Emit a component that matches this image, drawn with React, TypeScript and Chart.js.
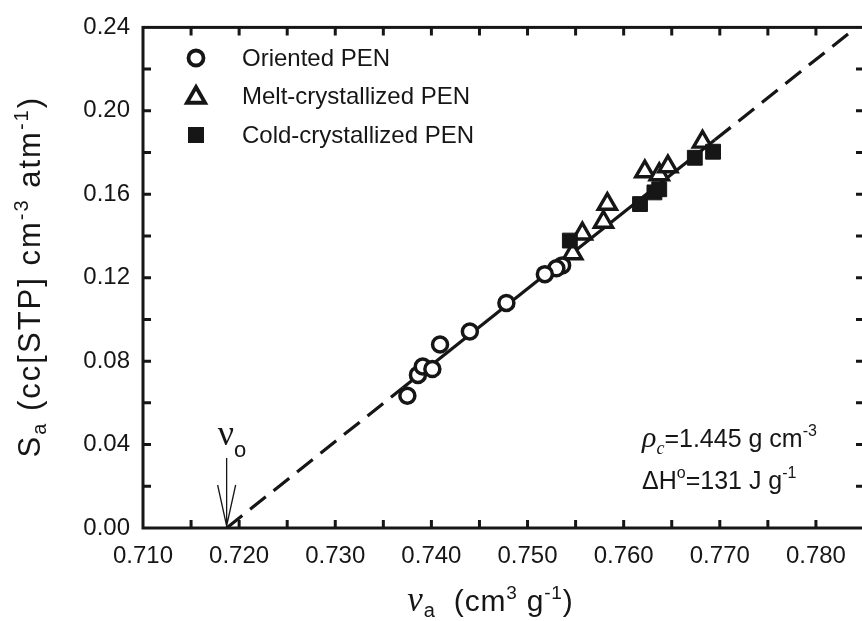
import React, { useEffect, useRef } from 'react';
import { Chart, registerables } from 'chart.js';

Chart.register(...registerables);

// ---------- data ----------
const orientedX = [0.7375, 0.7386, 0.7391, 0.7401, 0.7409, 0.744, 0.7478, 0.7536, 0.753, 0.7518];
const orientedY = [0.0634, 0.0734, 0.0774, 0.0762, 0.088, 0.0942, 0.1079, 0.1259, 0.1245, 0.1217];

const meltX = [0.7547, 0.7557, 0.7579, 0.7583, 0.7622, 0.7637, 0.7646, 0.7682];
const meltY = [0.1316, 0.1411, 0.1467, 0.1553, 0.1709, 0.1695, 0.1733, 0.1851];

const coldX = [0.7544, 0.7617, 0.7632, 0.7637, 0.7674, 0.7693];
const coldY = [0.1378, 0.1553, 0.1609, 0.1624, 0.1775, 0.1804];

// fitted line: dashed extrapolation / solid fit / dashed extrapolation
const fitX = [0.7187, 0.737, 0.7695, 0.7842];
const fitY = [0, 0.0671, 0.1861, 0.24];

const xMin = 0.71;
const xMax = 0.785;
const yMin = 0;
const yMax = 0.24;
const xStep = 0.005;
const yStep = 0.02;

const legendLabels = ['Oriented PEN', 'Melt-crystallized PEN', 'Cold-crystallized PEN'];

const SANS = 'Arial, "Liberation Sans", Helvetica, sans-serif';
const SERIF = '"Times New Roman", "Liberation Serif", serif';
const INK = '#161616';

type Seg = { t: string; f: string; dy?: number };

function richWidth(ctx: CanvasRenderingContext2D, segs: Seg[], sp: number) {
  let w = 0;
  segs.forEach((s) => {
    ctx.font = s.f;
    for (const ch of s.t) w += ctx.measureText(ch).width + sp;
  });
  return w - sp;
}

function drawRich(
  ctx: CanvasRenderingContext2D,
  segs: Seg[],
  x: number,
  y: number,
  align: 'left' | 'center',
  sp = 0
) {
  const w = richWidth(ctx, segs, sp);
  let cx = align === 'center' ? x - w / 2 : x;
  ctx.textAlign = 'left';
  ctx.textBaseline = 'alphabetic';
  segs.forEach((s) => {
    ctx.font = s.f;
    for (const ch of s.t) {
      ctx.fillText(ch, cx, y + (s.dy || 0));
      cx += ctx.measureText(ch).width + sp;
    }
  });
}

const pts = (xs: number[], ys: number[]) => xs.map((x, i) => ({ x, y: ys[i] }));

const decorPlugin = {
  id: 'decor',
  afterDraw(chart: any) {
    const { ctx, chartArea: a, scales } = chart;
    const xs = scales.x;
    const ys = scales.y;
    ctx.save();
    ctx.strokeStyle = INK;
    ctx.fillStyle = INK;

    // frame
    ctx.lineWidth = 3;
    ctx.strokeRect(a.left, a.top, a.right - a.left, a.bottom - a.top);

    // inward ticks on all four sides
    const L = 8;
    ctx.lineWidth = 3;
    ctx.beginPath();
    xs.ticks.forEach((t: any) => {
      const px = xs.getPixelForValue(t.value);
      if (px <= a.left + 2 || px >= a.right - 2) return;
      ctx.moveTo(px, a.bottom);
      ctx.lineTo(px, a.bottom - L);
      ctx.moveTo(px, a.top);
      ctx.lineTo(px, a.top + L);
    });
    ys.ticks.forEach((t: any) => {
      const py = ys.getPixelForValue(t.value);
      if (py <= a.top + 2 || py >= a.bottom - 2) return;
      ctx.moveTo(a.left, py);
      ctx.lineTo(a.left + L, py);
      ctx.moveTo(a.right, py);
      ctx.lineTo(a.right - L, py);
    });
    ctx.stroke();

    // legend
    const lx = 196;
    const rows = [58, 96.5, 135];
    ctx.lineWidth = 3.8;
    // circle
    ctx.beginPath();
    ctx.arc(lx, rows[0], 7.5, 0, Math.PI * 2);
    ctx.fillStyle = '#fff';
    ctx.fill();
    ctx.stroke();
    // triangle
    const r = 10.5;
    ctx.beginPath();
    ctx.moveTo(lx, rows[1] - r + 1);
    ctx.lineTo(lx + r * 0.866, rows[1] + r * 0.5 + 1);
    ctx.lineTo(lx - r * 0.866, rows[1] + r * 0.5 + 1);
    ctx.closePath();
    ctx.lineJoin = 'miter';
    ctx.stroke();
    // square
    ctx.fillStyle = INK;
    ctx.fillRect(lx - 8, rows[2] - 8, 16, 16);

    ctx.fillStyle = INK;
    ctx.font = `24px ${SANS}`;
    ctx.textAlign = 'left';
    ctx.textBaseline = 'middle';
    legendLabels.forEach((lab, i) => ctx.fillText(lab, 242, rows[i] + 1));

    // annotations
    drawRich(
      ctx,
      [
        { t: 'ρ', f: `italic 30px ${SERIF}` },
        { t: 'c', f: `italic 18px ${SERIF}`, dy: 7 },
        { t: '=1.445 g cm', f: `25px ${SANS}` },
        { t: '-3', f: `16px ${SANS}`, dy: -11 },
      ],
      642,
      447,
      'left'
    );
    drawRich(
      ctx,
      [
        { t: 'ΔH', f: `25px ${SANS}` },
        { t: 'o', f: `16px ${SANS}`, dy: -11 },
        { t: '=131 J g', f: `25px ${SANS}` },
        { t: '-1', f: `16px ${SANS}`, dy: -11 },
      ],
      642,
      489,
      'left'
    );

    // v_o label and arrow
    const ax = xs.getPixelForValue(fitX[0]);
    drawRich(
      ctx,
      [
        { t: 'ν', f: `36px ${SERIF}` },
        { t: 'o', f: `22px ${SANS}`, dy: 12 },
      ],
      ax - 9,
      445,
      'left'
    );
    ctx.lineWidth = 1.3;
    ctx.beginPath();
    ctx.moveTo(ax, 458);
    ctx.lineTo(ax, a.bottom - 2);
    ctx.moveTo(ax - 9, 485);
    ctx.lineTo(ax, a.bottom - 2);
    ctx.lineTo(ax + 9, 485);
    ctx.stroke();

    // axis titles
    drawRich(
      ctx,
      [
        { t: 'ν', f: `italic 35px ${SERIF}` },
        { t: 'a', f: `20px ${SANS}`, dy: 6 },
        { t: '  (cm', f: `30px ${SANS}` },
        { t: '3', f: `19px ${SANS}`, dy: -12 },
        { t: ' g', f: `30px ${SANS}` },
        { t: '-1', f: `19px ${SANS}`, dy: -12 },
        { t: ')', f: `30px ${SANS}` },
      ],
      490,
      611,
      'center',
      0.8
    );

    ctx.translate(40, (a.top + a.bottom) / 2);
    ctx.rotate(-Math.PI / 2);
    drawRich(
      ctx,
      [
        { t: 'S', f: `31px ${SANS}` },
        { t: 'a', f: `20px ${SANS}`, dy: 6 },
        { t: ' (cc[STP] cm', f: `31px ${SANS}` },
        { t: '-3', f: `20px ${SANS}`, dy: -12 },
        { t: ' atm', f: `31px ${SANS}` },
        { t: '-1', f: `20px ${SANS}`, dy: -12 },
        { t: ')', f: `31px ${SANS}` },
      ],
      0,
      0,
      'center',
      2
    );
    ctx.restore();
  },
};

export default function App() {
  const ref = useRef<HTMLCanvasElement | null>(null);

  useEffect(() => {
    if (!ref.current) return;
    const lineBase = {
      type: 'line' as const,
      showLine: true,
      pointRadius: 0,
      borderColor: INK,
      borderWidth: 3.2,
      borderCapStyle: 'butt' as const,
      fill: false,
      tension: 0,
    };
    const chart = new Chart(ref.current, {
      type: 'scatter',
      data: {
        datasets: [
          {
            label: legendLabels[0],
            data: pts(orientedX, orientedY),
            pointStyle: 'circle',
            pointRadius: 7.5,
            pointBorderWidth: 3.5,
            pointBorderColor: INK,
            pointBackgroundColor: '#ffffff',
          },
          {
            label: legendLabels[2],
            data: pts(coldX, coldY),
            pointStyle: 'rect',
            pointRadius: 10.5,
            pointBorderWidth: 1,
            pointBorderColor: INK,
            pointBackgroundColor: INK,
          },
          {
            label: legendLabels[1],
            data: pts(meltX, meltY),
            pointStyle: 'triangle',
            pointRadius: 10.5,
            pointBorderWidth: 3.4,
            pointBorderColor: INK,
            pointBackgroundColor: '#ffffff',
          },
          {
            ...lineBase,
            label: 'fit-low',
            data: pts(fitX.slice(0, 2), fitY.slice(0, 2)),
            borderDash: [20, 10],
          },
          {
            ...lineBase,
            label: 'fit',
            data: pts(fitX.slice(1, 3), fitY.slice(1, 3)),
          },
          {
            ...lineBase,
            label: 'fit-high',
            data: pts(fitX.slice(2, 4), fitY.slice(2, 4)),
            borderDash: [20, 10],
          },
        ] as any,
      },
      options: {
        responsive: false,
        animation: false,
        devicePixelRatio: 1,
        events: [],
        layout: { padding: { left: 0, top: 21, right: 16, bottom: 0 } },
        plugins: { legend: { display: false }, tooltip: { enabled: false } },
        scales: {
          x: {
            type: 'linear',
            min: xMin,
            max: xMax,
            afterFit: (s: any) => {
              s.height = 93;
            },
            grid: { display: false, drawTicks: false },
            border: { display: false },
            ticks: {
              stepSize: xStep,
              autoSkip: false,
              maxRotation: 0,
              padding: 14,
              color: INK,
              font: { family: SANS, size: 24 },
              callback: (v: any) => {
                const k = Math.round(Number(v) * 1000);
                return k % 10 === 0 ? (k / 1000).toFixed(3) : '';
              },
            },
          },
          y: {
            type: 'linear',
            min: yMin,
            max: yMax,
            afterFit: (s: any) => {
              s.width = 143;
            },
            grid: { display: false, drawTicks: false },
            border: { display: false },
            ticks: {
              stepSize: yStep,
              autoSkip: false,
              padding: 13,
              color: INK,
              font: { family: SANS, size: 24 },
              callback: (v: any) => {
                const k = Math.round(Number(v) * 100);
                return k % 4 === 0 ? (k / 100).toFixed(2) : '';
              },
            },
          },
        },
      },
      plugins: [decorPlugin],
    });
    return () => chart.destroy();
  }, []);

  return (
    <div
      style={{
        position: 'fixed',
        left: 0,
        top: 0,
        width: 862,
        height: 621,
        overflow: 'hidden',
        background: '#fff',
      }}
    >
      <canvas ref={ref} width={880} height={621} style={{ display: 'block' }} />
    </div>
  );
}
